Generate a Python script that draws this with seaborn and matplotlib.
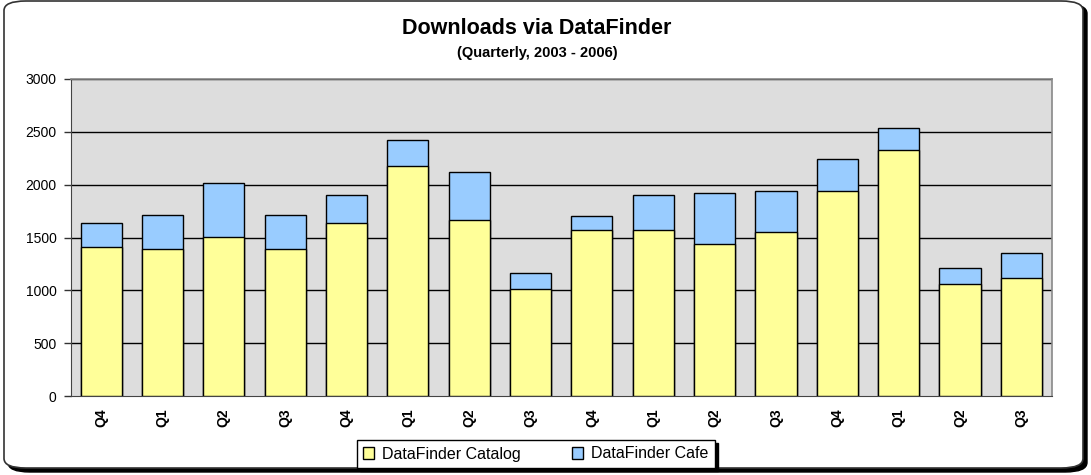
import matplotlib
matplotlib.use("Agg")
import matplotlib.pyplot as plt
from matplotlib.patches import FancyBboxPatch
import seaborn as sns
import pandas as pd

quarters = ["Q4", "Q1", "Q2", "Q3", "Q4", "Q1", "Q2", "Q3",
            "Q4", "Q1", "Q2", "Q3", "Q4", "Q1", "Q2", "Q3"]
catalog = [1407, 1394, 1508, 1388, 1637, 2180, 1662, 1010,
           1574, 1574, 1438, 1549, 1937, 2325, 1057, 1120]
cafe = [233, 322, 508, 328, 268, 243, 455, 154,
        132, 331, 480, 388, 309, 208, 151, 233]
series_names = ["DataFinder Catalog", "DataFinder Cafe"]
yticks = [0, 500, 1000, 1500, 2000, 2500, 3000]

sns.set_style("white")
plt.rcParams["font.family"] = ["Liberation Sans", "DejaVu Sans"]
plt.rcParams["text.color"] = "black"
plt.rcParams["xtick.color"] = "black"
plt.rcParams["ytick.color"] = "black"

df = pd.DataFrame({
    "pos": list(range(len(quarters))),
    "catalog": catalog,
    "total": [a + b for a, b in zip(catalog, cafe)],
})

W, H = 1091, 475
fig = plt.figure(figsize=(W / 100, H / 100), dpi=100)

# outer chart frame with shadow
shadow = FancyBboxPatch((8 / W, 3 / H), 1079 / W, 468 / H,
                        boxstyle="round,pad=0,rounding_size=0.02",
                        transform=fig.transFigure, facecolor="black",
                        edgecolor="black", lw=1, zorder=0)
frame = FancyBboxPatch((4 / W, 7 / H), 1079 / W, 467 / H,
                       boxstyle="round,pad=0,rounding_size=0.02",
                       transform=fig.transFigure, facecolor="white",
                       edgecolor="#333333", lw=1.2, zorder=0.1)
fig.patches.extend([shadow, frame])

left, right, top, bottom = 70.5, 1052, 79, 396
ax = fig.add_axes([left / W, 1 - bottom / H, (right - left) / W, (bottom - top) / H])
ax.set_facecolor("#DDDDDD")
ax.set_zorder(1)

sns.barplot(data=df, x="pos", y="total", color="#99CCFF", saturation=1,
            width=0.67, edgecolor="black", linewidth=1, ax=ax,
            label=series_names[1], zorder=3)
sns.barplot(data=df, x="pos", y="catalog", color="#FFFF99", saturation=1,
            width=0.67, edgecolor="black", linewidth=1, ax=ax,
            label=series_names[0], zorder=4)
if ax.get_legend() is not None:
    ax.get_legend().remove()

ax.set_ylim(0, 3000)
ax.set_xlim(-0.5, len(quarters) - 0.5)
ax.set_yticks(yticks)
ax.set_yticklabels([str(v) for v in yticks], fontsize=10)
ax.set_xticks(range(len(quarters)))
ax.set_xticklabels(quarters, rotation=90, fontsize=10, fontweight="bold")
ax.tick_params(axis="x", length=0, pad=9)
ax.tick_params(axis="y", length=5, width=1, color="#333333", pad=5, left=True)
ax.set_xlabel("")
ax.set_ylabel("")
for y in yticks[1:]:
    ax.axhline(y, color="black", lw=1, zorder=1)
for side in ["top", "right"]:
    ax.spines[side].set_color("#888888")
    ax.spines[side].set_linewidth(1.2)
ax.spines["left"].set_color("#444444")
ax.spines["bottom"].set_color("#444444")

fig.text(537 / W, 1 - 29 / H, "Downloads via DataFinder", ha="center",
         va="center", fontsize=15.5, fontweight="bold")
fig.text(537 / W, 1 - 53 / H, "(Quarterly, 2003 - 2006)", ha="center",
         va="center", fontsize=10.5, fontweight="bold")

handles, labels = ax.get_legend_handles_labels()
order = [labels.index(series_names[0]), labels.index(series_names[1])]
leg = fig.legend([handles[i] for i in order], [labels[i] for i in order],
                 loc="center", bbox_to_anchor=(536 / W, 1 - 454 / H),
                 ncol=2, fontsize=11.5, frameon=True, fancybox=False,
                 edgecolor="black", shadow={"color": "black", "alpha": 1},
                 handlelength=0.7, handleheight=0.7, handletextpad=0.5,
                 columnspacing=3.2, borderpad=0.4, borderaxespad=0)
leg.get_frame().set_linewidth(1)

fig.savefig("out.png", dpi=100)
